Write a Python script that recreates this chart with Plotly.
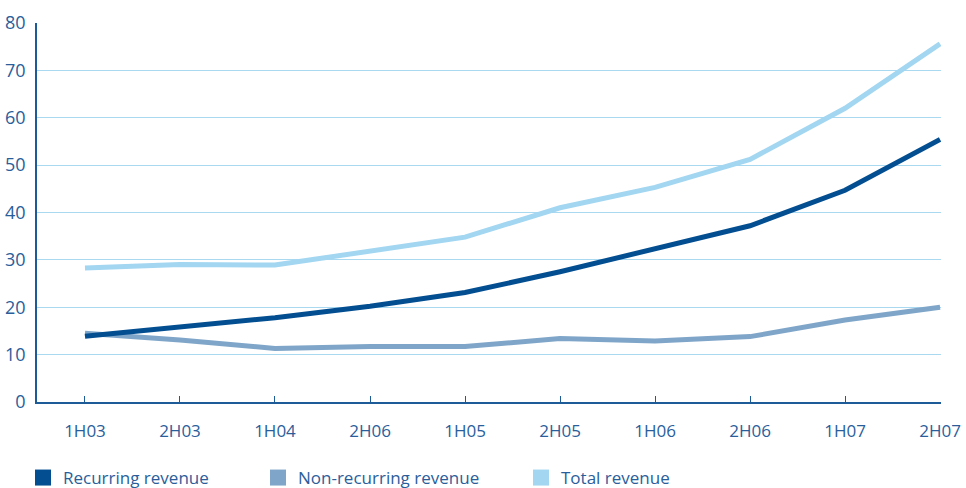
import plotly.graph_objects as go

# Half-year periods (labels as printed on the axis)
periods = ["1H03", "2H03", "1H04", "2H06", "1H05", "2H05", "1H06", "2H06", "1H07", "2H07"]

# Revenue series
recurring = [13.9, 15.9, 17.8, 20.2, 23.1, 27.5, 32.4, 37.2, 44.7, 55.4]
non_recurring = [14.5, 13.1, 11.3, 11.7, 11.7, 13.4, 12.9, 13.8, 17.3, 20.0]
total = [28.3, 29.0, 28.9, 31.8, 34.8, 41.0, 45.3, 51.2, 62.0, 75.6]

y_ticks = [0, 10, 20, 30, 40, 50, 60, 70, 80]

# Numeric positions, since "2H06" appears twice among the labels
x_pos = list(range(len(periods)))

series = [
    ("Recurring revenue", recurring, "#034E91", "legend"),
    ("Non-recurring revenue", non_recurring, "#7FA6C9", "legend2"),
    ("Total revenue", total, "#A2D6F1", "legend3"),
]

AXIS_BLUE = "#1D5A98"
TEXT_BLUE = "#2A5E9B"
GRID_BLUE = "#A9D8F1"
FONT = "Open Sans, Noto Sans, DejaVu Sans, sans-serif"

fig = go.Figure()

# Draw order: total first, then non-recurring, recurring on top
for name, vals, color, lg in [series[2], series[1], series[0]]:
    fig.add_trace(go.Scatter(
        x=x_pos, y=vals, mode="lines", name=name,
        line=dict(color=color, width=5),
        showlegend=False, hoverinfo="skip",
    ))

# Square legend swatches
for name, vals, color, lg in series:
    fig.add_trace(go.Scatter(
        x=[None], y=[None], mode="markers", name=name,
        marker=dict(symbol="square", size=18, color=color),
        legend=lg, showlegend=True,
    ))

legend_common = dict(
    orientation="h", xref="container", yref="container",
    yanchor="middle", y=(488 - 478) / 488, xanchor="left",
    font=dict(family=FONT, size=17, color=TEXT_BLUE),
    bgcolor="rgba(0,0,0,0)", itemsizing="trace",
    tracegroupgap=0, itemwidth=30,
)

fig.update_layout(
    width=966, height=488,
    margin=dict(l=37, r=25, t=23, b=86, autoexpand=False),
    paper_bgcolor="white", plot_bgcolor="white",
    font=dict(family=FONT, size=16, color=TEXT_BLUE),
    legend=dict(x=(37 - 14) / 966, **legend_common),
    legend2=dict(x=(272 - 14) / 966, **legend_common),
    legend3=dict(x=(535 - 14) / 966, **legend_common),
    xaxis=dict(
        range=[-0.505, 9.01], automargin=False,
        tickmode="array", tickvals=x_pos, ticktext=periods,
        showgrid=False, zeroline=False,
        showline=True, linecolor=AXIS_BLUE, linewidth=1.5,
        ticks="inside", ticklen=6, tickcolor=AXIS_BLUE, tickwidth=1,
        ticklabelstandoff=13,
        tickfont=dict(family=FONT, size=17, color=TEXT_BLUE),
        fixedrange=True,
    ),
    yaxis=dict(
        range=[0, 80], automargin=False,
        tickmode="array", tickvals=y_ticks,
        showgrid=True, gridcolor=GRID_BLUE, gridwidth=1,
        zeroline=False,
        showline=True, linecolor=AXIS_BLUE, linewidth=1.5,
        ticks="", ticklabelstandoff=6,
        tickfont=dict(family=FONT, size=18, color=TEXT_BLUE),
        fixedrange=True,
    ),
)

fig.write_html("out.html")
